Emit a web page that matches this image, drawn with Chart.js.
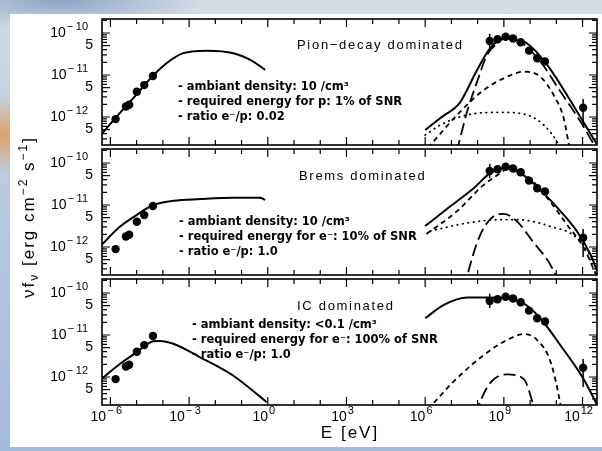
<!DOCTYPE html>
<html>
<head>
<meta charset="utf-8">
<script src="https://cdn.jsdelivr.net/npm/chart.js@4.4.1/dist/chart.umd.min.js"></script>
<style>
  html, body { margin: 0; padding: 0; }
  body {
    width: 602px; height: 451px; position: relative; overflow: hidden;
    background:
      radial-gradient(ellipse 60px 40px at 4px 135px, #d9a46a 0%, rgba(217,164,106,0) 100%),
      radial-gradient(ellipse 140px 30px at 60px 0px, #8ea4c4 0%, rgba(142,164,196,0) 100%),
      linear-gradient(180deg, #d3dbe6 0%, #b6c7de 50%, #a3bada 100%);
  }
  #sheet { position: absolute; left: 10px; top: 14px; width: 592px; height: 433px; background: #fff; }
  canvas { position: absolute; left: 0; top: 0; }
  .head { position: absolute; font-family: "Liberation Sans", sans-serif; font-size: 13px; letter-spacing: 1.7px; line-height: 15px; white-space: nowrap; color: #000; }
  .note { position: absolute; font-family: "DejaVu Sans", sans-serif; font-weight: bold; font-size: 11.5px; line-height: 15px; white-space: nowrap; color: #000; }
  .axis { position: absolute; font-family: "Liberation Sans", sans-serif; font-size: 17px; letter-spacing: 2px; white-space: nowrap; color: #000; }
  #ytitle { left: 29px; top: 217px; transform: translate(-50%, -50%) rotate(-90deg); }
  #xtitle { left: 350px; top: 433px; transform: translate(-50%, -50%); }
  sub, sup { font-size: 12px; line-height: 0; }
</style>
</head>
<body>
<div id="sheet"></div>
<canvas id="c1" width="602" height="451"></canvas>
<canvas id="c2" width="602" height="451"></canvas>
<canvas id="c3" width="602" height="451"></canvas>

<div class="head" style="left:297px; top:37px;">Pion−decay dominated</div>
<div class="note" style="left:178px; top:79px;">- ambiant density: 10 /cm³<br>- required energy for p: 1% of SNR<br>- ratio e⁻/p: 0.02</div>

<div class="head" style="left:299px; top:168px;">Brems dominated</div>
<div class="note" style="left:179px; top:214px;">- ambiant density: 10 /cm³<br>- required energy for e⁻: 10% of SNR<br>- ratio e⁻/p: 1.0</div>

<div class="head" style="left:297px; top:298px;">IC dominated</div>
<div class="note" style="left:192px; top:317px;">- ambiant density: &lt;0.1 /cm³<br>- required energy for e⁻: 100% of SNR<br>- ratio e⁻/p: 1.0</div>

<div class="axis" id="ytitle">νf<sub>ν</sub> [erg cm<sup>−2</sup> s<sup>−1</sup>]</div>
<div class="axis" id="xtitle">E [eV]</div>

<script>
// axis ticks
const xTickValues = [1e-6, 1e-3, 1, 1e3, 1e6, 1e9, 1e12];
const xTickLabels = ['10^−6', '10^−3', '10^0', '10^3', '10^6', '10^9', '10^12'];
const yTickValues = [1e-10, 5e-11, 1e-11, 5e-12, 1e-12, 5e-13];
const yTickLabels = ['10^−10', '5', '10^−11', '5', '10^−12', '5'];

// measured points (same in every panel)
const radioE = [1.58e-6, 3.9e-6, 5.2e-6, 1.02e-5, 1.95e-5, 4.2e-5];
const radioF = [8.9e-13, 1.78e-12, 1.95e-12, 4.0e-12, 5.75e-12, 9.5e-12];
const gammaE = [2.88e8, 5.75e8, 1.17e9, 2.24e9, 4.37e9, 9.1e9, 1.86e10, 3.7e10, 1.05e12];
const gammaF = [6.46e-11, 7.08e-11, 8.13e-11, 7.41e-11, 6.03e-11, 3.8e-11, 2.51e-11, 2.09e-11, 1.66e-12];
const gammaLo = [4.37e-11, 6.31e-11, 7.41e-11, 6.76e-11, 5.37e-11, 3.31e-11, 2.14e-11, 1.74e-11, 5.75e-13];
const gammaHi = [9.55e-11, 7.94e-11, 8.91e-11, 8.13e-11, 6.76e-11, 4.37e-11, 2.95e-11, 2.51e-11, 2.69e-12];

// pion-decay dominated model
const pionSyncE = [4.0e-7, 1.58e-6, 1.0e-5, 4.17e-5, 1.38e-4, 6.03e-4, 4.68e-3, 4.9e-2, 0.282, 0.794];
const pionSyncF = [3.55e-13, 9.55e-13, 3.47e-12, 9.55e-12, 1.91e-11, 3.31e-11, 3.8e-11, 3.31e-11, 2.09e-11, 1.32e-11];
const pionTotE = [1e6, 4.47e6, 2.04e7, 9.55e7, 3.02e8, 9.77e8, 2.51e9, 7.76e9, 4.47e10, 2.57e11, 1.05e12, 3.09e12, 3.98e12];
const pionTotF = [4.9e-13, 1.02e-12, 2.14e-12, 1.32e-11, 4.37e-11, 7.41e-11, 6.92e-11, 5.62e-11, 1.74e-11, 3.31e-12, 7.76e-13, 2.57e-13, 2.0e-13];
const pionLongE = [1.58e7, 1.91e7, 3.98e7, 9.55e7, 2.29e8, 5.5e8, 1.15e9, 4.27e9, 2.45e10, 1.45e11, 8.32e11, 2.34e12, 3.98e12];
const pionLongF = [1.51e-13, 2.34e-13, 1.35e-12, 6.92e-12, 3.02e-11, 5.62e-11, 7.41e-11, 6.17e-11, 2.09e-11, 3.98e-12, 7.76e-13, 2.57e-13, 1.41e-13];
const pionShortE = [1.26e6, 1.55e6, 2.19e7, 1.7e8, 9.77e8, 5.75e9, 2.45e10, 7.94e10, 1.91e11, 2.95e11, 3.55e11];
const pionShortF = [1.86e-13, 2.14e-13, 1.35e-12, 4.37e-12, 8.32e-12, 1.2e-11, 9.12e-12, 3.31e-12, 9.33e-13, 2.34e-13, 1.26e-13];
const pionDotE = [1e6, 3.8e6, 3.98e7, 7.41e8, 7.76e9, 3.31e10, 1.07e11, 1.58e11];
const pionDotF = [3.72e-13, 6.46e-13, 1.12e-12, 1.29e-12, 1.12e-12, 6.46e-13, 2.57e-13, 1.58e-13];

// brems dominated model
const bremSyncE = [3.98e-7, 2.29e-6, 1e-5, 4.27e-5, 2.51e-4, 2.63e-3, 4.9e-2, 0.513, 0.794];
const bremSyncF = [1.02e-12, 3.02e-12, 5.75e-12, 1.0e-11, 1.26e-11, 1.38e-11, 1.48e-11, 1.48e-11, 1.32e-11];
const bremTotE = [1e6, 9.12e6, 7.08e7, 3.02e8, 1.07e9, 4.27e9, 2.45e10, 1.45e11, 6.17e11, 2.0e12, 3.63e12];
const bremTotF = [3.16e-12, 9.33e-12, 2.51e-11, 5.75e-11, 7.59e-11, 5.75e-11, 2.29e-11, 7.08e-12, 2.34e-12, 6.61e-13, 2.63e-13];
const bremShortE = [1.12e6, 1.62e7, 1.7e8, 7.41e8, 1.32e9, 7.76e9, 4.47e10, 2.57e11, 1.12e12, 3.09e12, 3.98e12];
const bremShortF = [2.04e-12, 7.08e-12, 3.02e-11, 5.75e-11, 7.24e-11, 4.79e-11, 1.48e-11, 3.39e-12, 9.55e-13, 2.4e-13, 1.78e-13];
const bremDotE = [1.58e6, 3.98e7, 7.41e8, 3.16e9, 6.03e10, 6.17e11, 2.69e12, 3.98e12];
const bremDotF = [2.4e-12, 3.72e-12, 4.47e-12, 4.47e-12, 3.09e-12, 1.62e-12, 4.17e-13, 2.0e-13];
const bremLongE = [3.16e7, 3.98e7, 1.26e8, 4.07e8, 9.77e8, 3.16e9, 1.38e10, 4.47e10, 9.33e10, 1.26e11];
const bremLongF = [1.0e-13, 2.0e-13, 1.95e-12, 5.37e-12, 6.17e-12, 4.07e-12, 1.26e-12, 5.01e-13, 2.19e-13, 1.41e-13];

// IC dominated model
const icSyncE = [3.98e-7, 2.29e-6, 1e-5, 4.27e-5, 7.76e-5, 2.51e-4, 2.63e-3, 4.9e-2, 0.912];
const icSyncF = [8.32e-13, 2.04e-12, 3.89e-12, 7.08e-12, 7.24e-12, 6.17e-12, 2.95e-12, 1.07e-12, 2.51e-13];
const icTotE = [1e6, 5.01e6, 3.98e7, 2.29e8, 1.07e9, 5.75e9, 2.45e10, 1.45e11, 1.05e12, 3.98e12];
const icTotF = [2.51e-11, 5.13e-11, 7.76e-11, 7.76e-11, 7.41e-11, 5.62e-11, 2.51e-11, 5.62e-12, 9.33e-13, 1.91e-13];
const icShortE = [1.26e6, 1.55e6, 1.2e7, 1.7e8, 1.32e9, 5.75e9, 1.86e10, 6.03e10, 1.45e11, 1.6e11];
const icShortF = [1.7e-13, 1.95e-13, 7.76e-13, 3.31e-12, 7.59e-12, 1.05e-11, 7.59e-12, 2.29e-12, 2.14e-13, 1.41e-13];
const icLongE = [8.91e7, 1.1e8, 3.02e8, 1.32e9, 5.75e9, 1.38e10, 1.78e10];
const icLongF = [1.26e-13, 2.04e-13, 7.24e-13, 1.15e-12, 8.91e-13, 2.04e-13, 1.26e-13];

const pts = (xs, ys) => xs.map((x, i) => ({ x: x, y: ys[i] }));

function curve(xs, ys, style) {
    const dash = { solid: [], short: [5, 4], long: [12, 5], dot: [0.5, 5] }[style];
    return {
        data: pts(xs, ys),
        borderColor: '#000',
        borderWidth: style === 'solid' ? 2 : 1.8,
        borderDash: dash,
        borderCapStyle: style === 'dot' ? 'round' : 'butt',
        cubicInterpolationMode: 'monotone',
        pointRadius: 0,
        fill: false,
        clip: 0
    };
}

function dots(xs, ys) {
    return {
        data: pts(xs, ys),
        showLine: false,
        pointRadius: 4.2,
        pointBackgroundColor: '#000',
        pointBorderWidth: 0,
        clip: false
    };
}

// label like 10^−6 : base plus raised exponent
function drawPow(ctx, label, x, y, align) {
    const parts = label.split('^');
    const base = parts[0], exp = parts[1];
    ctx.font = '14px "Liberation Sans"';
    const wb = ctx.measureText(base).width;
    let sign = '', digits = '', ws = 0, wd = 0;
    if (exp) {
        ctx.font = '11px "Liberation Sans"';
        if (exp[0] === '−') { sign = '−'; digits = exp.slice(1); ws = ctx.measureText(sign).width + 2.5; }
        else digits = exp;
        wd = ctx.measureText(digits).width;
    }
    const total = wb + (exp ? 1 + ws + wd : 0);
    const x0 = align === 'right' ? x - total : x - total / 2;
    ctx.textAlign = 'left';
    ctx.textBaseline = 'middle';
    ctx.fillStyle = '#000';
    ctx.font = '14px "Liberation Sans"';
    ctx.fillText(base, x0, y);
    if (exp) {
        ctx.font = '11px "Liberation Sans"';
        if (sign) ctx.fillText(sign, x0 + wb + 1, y - 6);
        ctx.fillText(digits, x0 + wb + 1 + ws, y - 6);
    }
}

const framePlugin = {
    id: 'frame',
    afterDatasetsDraw(chart, args, opts) {
        const { ctx, chartArea: a, scales: { x, y } } = chart;
        ctx.save();
        // error bars of the gamma points
        ctx.strokeStyle = '#000';
        ctx.lineWidth = 1.5;
        ctx.beginPath();
        gammaE.forEach((e, i) => {
            const px = x.getPixelForValue(e);
            ctx.moveTo(px, Math.min(a.bottom, y.getPixelForValue(gammaLo[i])));
            ctx.lineTo(px, y.getPixelForValue(gammaHi[i]));
        });
        ctx.stroke();

        // box
        ctx.lineWidth = 1.6;
        ctx.strokeRect(a.left, a.top, a.right - a.left, a.bottom - a.top);

        // inner ticks
        ctx.lineWidth = 1.2;
        ctx.beginPath();
        for (let p = -6; p <= 12; p++) {
            const px = x.getPixelForValue(Math.pow(10, p));
            const len = p % 3 === 0 ? 8 : 5;
            ctx.moveTo(px, a.bottom); ctx.lineTo(px, a.bottom - len);
            ctx.moveTo(px, a.top); ctx.lineTo(px, a.top + len);
        }
        for (let p = -13; p <= -10; p++) {
            for (let m = 1; m <= 9; m++) {
                const v = m * Math.pow(10, p);
                if (v < y.min || v > y.max) continue;
                const py = y.getPixelForValue(v);
                const len = (m === 1 || m === 5) ? 8 : 5;
                ctx.moveTo(a.left, py); ctx.lineTo(a.left + len, py);
                ctx.moveTo(a.right, py); ctx.lineTo(a.right - len, py);
            }
        }
        ctx.stroke();

        // tick labels
        yTickValues.forEach((v, i) => {
            const py = y.getPixelForValue(v);
            const lab = yTickLabels[i];
            drawPow(ctx, lab, lab.includes('^') ? a.left - 14 : a.left - 9, py, 'right');
        });
        if (opts.xLabels) {
            xTickValues.forEach((v, i) => {
                drawPow(ctx, xTickLabels[i], x.getPixelForValue(v) - 4, a.bottom + 12, 'center');
            });
        }
        ctx.restore();
    }
};

const panelTops = [19, 149, 279];
const panelHeight = 126;

function makePanel(id, index, models) {
    const top = panelTops[index];
    return new Chart(document.getElementById(id), {
        type: 'line',
        data: {
            datasets: models.concat([dots(radioE, radioF), dots(gammaE, gammaF)])
        },
        options: {
            responsive: false,
            animation: false,
            devicePixelRatio: 1,
            events: [],
            layout: { padding: { left: 102, right: 5, top: top, bottom: 451 - top - panelHeight } },
            plugins: {
                legend: { display: false },
                tooltip: { enabled: false },
                frame: { xLabels: index === 2 }
            },
            scales: {
                x: { type: 'logarithmic', min: 4.79e-7, max: 3.55e12, display: false },
                y: { type: 'logarithmic', min: 2.154e-13, max: 2.154e-10, display: false }
            }
        },
        plugins: [framePlugin]
    });
}

makePanel('c1', 0, [
    curve(pionSyncE, pionSyncF, 'solid'),
    curve(pionTotE, pionTotF, 'solid'),
    curve(pionLongE, pionLongF, 'long'),
    curve(pionShortE, pionShortF, 'short'),
    curve(pionDotE, pionDotF, 'dot')
]);
makePanel('c2', 1, [
    curve(bremSyncE, bremSyncF, 'solid'),
    curve(bremTotE, bremTotF, 'solid'),
    curve(bremShortE, bremShortF, 'short'),
    curve(bremDotE, bremDotF, 'dot'),
    curve(bremLongE, bremLongF, 'long')
]);
makePanel('c3', 2, [
    curve(icSyncE, icSyncF, 'solid'),
    curve(icTotE, icTotF, 'solid'),
    curve(icShortE, icShortF, 'short'),
    curve(icLongE, icLongF, 'long')
]);
</script>
</body>
</html>
